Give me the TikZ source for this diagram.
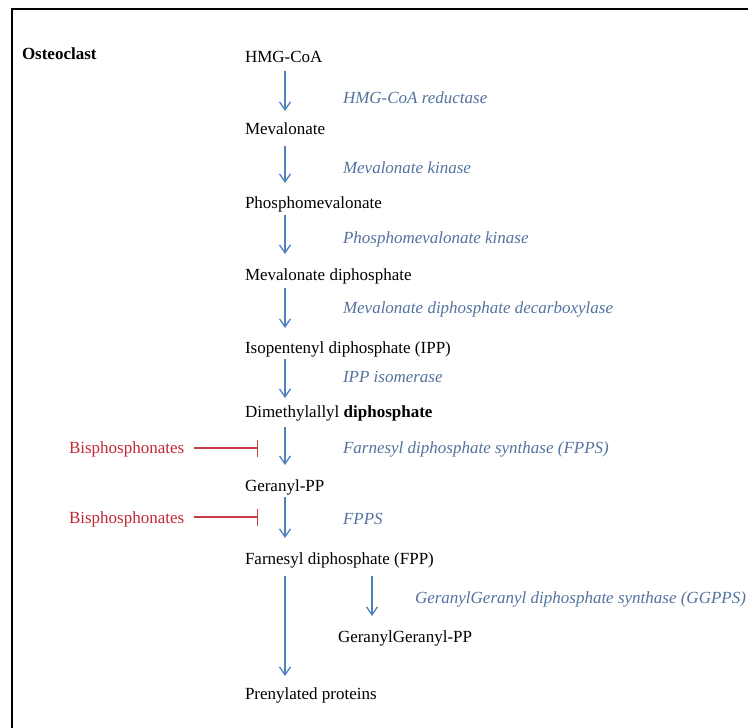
\documentclass[tikz,border=0pt]{standalone}
\usepackage{fontspec}
\setmainfont{Liberation Serif}
\usetikzlibrary{arrows.meta}
\definecolor{arrblue}{RGB}{79,129,189}
\definecolor{enzblue}{RGB}{84,114,158}
\definecolor{inhred}{RGB}{192,40,52}
\definecolor{inhline}{RGB}{200,60,70}
\begin{document}
\begin{tikzpicture}[x=1pt,y=-1pt,
  every node/.style={inner sep=0pt,outer sep=0pt,font=\fontsize{17}{20}\selectfont},
  met/.style={anchor=base west,text height=11pt,text depth=4pt,text=black},
  enz/.style={anchor=base west,text=enzblue,font=\fontsize{17}{20}\selectfont\itshape},
  bis/.style={anchor=base west,text height=11pt,text depth=4pt,text=inhred},
  arr/.style={draw=arrblue,line width=1.3pt,-{Straight Barb[length=8pt,width=11pt,line width=1.3pt]}},
  inh/.style={draw=inhline,line width=1.3pt,-{Bar[width=17pt,line width=1.5pt]}}]
\useasboundingbox (0,0) rectangle (748,728);
% frame
\draw[line width=2.6pt,black] (12,728) -- (12,9) -- (748,9);
% column coordinates
\coordinate (col) at (285,0);
\coordinate (col2) at (372,0);
% title
\node[anchor=base west] (ost) at (22,59) {\bfseries Osteoclast};
% metabolites
\node[met] (hmg) at (245,63) {HMG-CoA};
\node[met] (mev) at (245,134) {Mevalonate};
\node[met] (pmev) at (245,208) {Phosphomevalonate};
\node[met] (mevpp) at (245,280) {Mevalonate diphosphate};
\node[met] (ipp) at (245,353) {Isopentenyl diphosphate (IPP)};
\node[met] (dmapp) at (245,417) {Dimethylallyl \textbf{diphosphate}};
\node[met] (gpp) at (245,491) {Geranyl-PP};
\node[met] (fpp) at (245,564) {Farnesyl diphosphate (FPP)};
\node[met] (ggpp) at (338,642) {GeranylGeranyl-PP};
\node[met] (prot) at (245,699) {Prenylated proteins};
% enzymes
\node[enz] (e1) at (343,103) {HMG-CoA reductase};
\node[enz] (e2) at (343,173) {Mevalonate kinase};
\node[enz] (e3) at (343,243) {Phosphomevalonate kinase};
\node[enz] (e4) at (343,313) {Mevalonate diphosphate decarboxylase};
\node[enz] (e5) at (343,382) {IPP isomerase};
\node[enz] (e6) at (343,453) {Farnesyl diphosphate synthase (FPPS)};
\node[enz] (e7) at (343,524) {FPPS};
\node[enz] (e8) at (415,603) {GeranylGeranyl diphosphate synthase (GGPPS)};
% arrows
\draw[arr,shorten <=4pt,shorten >=12pt] (hmg.south -| col) -- (mev.north -| col);
\draw[arr,shorten <=8pt,shorten >=14pt] (mev.south -| col) -- (pmev.north -| col);
\draw[arr,shorten <=3pt,shorten >=15pt] (pmev.south -| col) -- (mevpp.north -| col);
\draw[arr,shorten <=4pt,shorten >=14pt] (mevpp.south -| col) -- (ipp.north -| col);
\draw[arr,shorten <=2pt,shorten >=8pt] (ipp.south -| col) -- (dmapp.north -| col);
\draw[arr,shorten <=6pt,shorten >=15pt] (dmapp.south -| col) -- (gpp.north -| col);
\draw[arr,shorten <=2pt,shorten >=15pt] (gpp.south -| col) -- (fpp.north -| col);
\draw[arr,shorten <=8pt,shorten >=12pt] (fpp.south -| col) -- (prot.north -| col);
\draw[arr,shorten <=8pt,shorten >=15pt] (fpp.south -| col2) -- (ggpp.north -| col2);
% inhibitors
\node[bis] (b1) at (69,453) {Bisphosphonates};
\node[bis] (b2) at (69,523) {Bisphosphonates};
\coordinate (i1) at (258,448);
\coordinate (i2) at (258,517);
\draw[inh,shorten <=10pt] (b1.east |- i1) -- (i1);
\draw[inh,shorten <=10pt] (b2.east |- i2) -- (i2);
\end{tikzpicture}
\end{document}
